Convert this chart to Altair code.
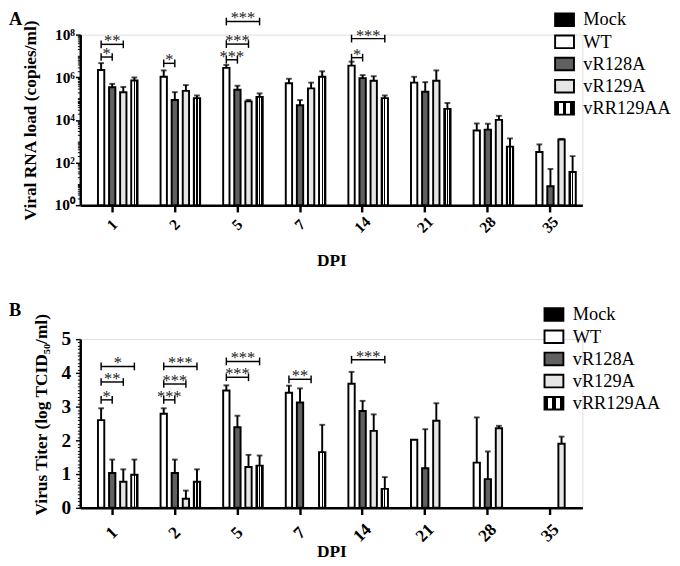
import altair as alt
import pandas as pd

series = ["Mock", "WT", "vR128A", "vR129A", "vRR129AA"]
dpi_labels = ["1", "2", "5", "7", "14", "21", "28", "35"]

# ---- Panel A: viral RNA load (copies/ml): mean and top of error bar ----
rna_wt = [2.2e6, 1.05e6, 2.75e6, 5.2e5, 3.5e6, 5.6e5, 3.2e3, 3.1e2]
rna_wt_hi = [4.6e6, 2.1e6, 3.8e6, 8.5e5, 5.4e6, 1.05e6, 6.8e3, 7.1e2]
rna_r128 = [3.4e5, 8.5e4, 2.6e5, 4.9e4, 9.1e5, 2.1e5, 3.5e3, 7.8]
rna_r128_hi = [4.9e5, 2.0e5, 4.0e5, 8.5e4, 1.26e6, 5.9e5, 6.6e3, 50]
rna_r129 = [2.0e5, 2.3e5, 7.4e4, 3.0e5, 6.8e5, 6.8e5, 1.0e4, 1.2e3]
rna_r129_hi = [3.5e5, 4.3e5, 8.7e4, 5.6e5, 1.12e6, 2.1e6, 1.55e4, 1.29e3]
rna_rr = [7.0e5, 1.05e5, 1.2e5, 1.05e6, 1.05e5, 3.3e4, 5.6e2, 36]
rna_rr_hi = [9.8e5, 1.4e5, 1.75e5, 1.9e6, 1.4e5, 6.2e4, 1.35e3, 2.0e2]

# significance brackets: (DPI, compared virus vs WT, bracket level, label)
rna_brackets = [
    ("1", "vR128A", 8.9e6, "*"), ("1", "vR129A", 3.5e7, "**"),
    ("2", "vR128A", 4.5e6, "*"),
    ("5", "vR128A", 6.6e6, "***"), ("5", "vR129A", 3.6e7, "***"), ("5", "vRR129AA", 4.1e8, "***"),
    ("14", "vR128A", 8.3e6, "*"), ("14", "vRR129AA", 6.5e7, "***"),
]

# ---- Panel B: virus titer (log TCID50/ml) ----
tit_wt = [2.60, 2.79, 3.48, 3.41, 3.68, 2.02, 1.34, None]
tit_wt_hi = [2.95, 2.95, 3.63, 3.62, 4.03, 2.02, 2.68, None]
tit_r128 = [1.03, 1.03, 2.39, 3.12, 2.87, 1.17, 0.85, None]
tit_r128_hi = [1.43, 1.43, 2.73, 3.54, 3.17, 2.33, 1.67, None]
tit_r129 = [0.77, 0.27, 1.21, None, 2.28, 2.58, 2.36, 1.90]
tit_r129_hi = [1.14, 0.51, 1.57, None, 2.77, 3.10, 2.43, 2.11]
tit_rr = [0.98, 0.77, 1.25, 1.65, 0.56, None, None, None]
tit_rr_hi = [1.43, 1.14, 1.55, 2.46, 0.91, None, None, None]

tit_brackets = [
    ("1", "vR128A", 3.20, "*"), ("1", "vR129A", 3.73, "**"), ("1", "vRR129AA", 4.19, "*"),
    ("2", "vR128A", 3.20, "***"), ("2", "vR129A", 3.67, "***"), ("2", "vRR129AA", 4.19, "***"),
    ("5", "vR129A", 3.87, "***"), ("5", "vRR129AA", 4.34, "***"),
    ("7", "vR129A", 3.81, "**"),
    ("14", "vRR129AA", 4.39, "***"),
]

log_major = [1, 100, 10000, 1000000, 100000000]
log_major_labels = ["10\u2070", "10\u00b2", "10\u2074", "10\u2076", "10\u2078"]
lin_major = [0, 1, 2, 3, 4, 5]

# ---------------- layout / style ----------------
FONT = "Liberation Serif"
W = 521
X_PI, X_PO = 0.12, 0.07
O_PI, O_PO = 0.43, 0.2
step = W / (len(dpi_labels) - X_PI + 2 * X_PO)
step2 = step * (1 - X_PI) / (len(series) - O_PI + 2 * O_PO)

stops = []
n_stripes = 5
for i in range(n_stripes):
    c = "black" if i % 2 == 0 else "white"
    stops.append(f"{{offset: {i / n_stripes:.3f}, color: '{c}'}}")
    stops.append(f"{{offset: {(i + 1) / n_stripes:.3f}, color: '{c}'}}")
checker = "{gradient: 'linear', x1: 0, y1: 0, x2: 1, y2: 0, stops: [" + ", ".join(stops) + "]}"
fill_range = ["black", "white", "#606060", "#e6e6e6", alt.ExprRef(expr=checker)]


def make_table(means, highs):
    rows = []
    for s, ml, hl in zip(series[1:], means, highs):
        for d, m, h in zip(dpi_labels, ml, hl):
            if m is None:
                continue
            rows.append({"DPI": d, "Virus": s, "mean": m, "upper": h})
    return pd.DataFrame(rows)


def bracket_tables(brackets):
    lines, texts = [], []
    for i, (d, tgt, lvl, lab) in enumerate(brackets):
        for s in ["WT", tgt]:
            lines.append({"DPI": d, "Virus": s, "level": lvl, "id": i})
        texts.append({"DPI": d, "Virus": tgt, "level": lvl, "label": lab,
                      "span": series.index(tgt) - series.index("WT")})
    return pd.DataFrame(lines), pd.DataFrame(texts)


def panel(df, brackets, y_scale, y_axis, minor_axis, base_value, height, x_title_pad,
          x_label_size, x_label_pad, legend_xy, tag, tag_y):
    lines, texts = bracket_tables(brackets)
    x_axis = alt.Axis(title="DPI", labelAngle=-45, labelAlign="center", labelBaseline="middle",
                      labelPadding=x_label_pad, labelFont=FONT, labelFontSize=x_label_size,
                      labelFontWeight="bold", titleFont=FONT, titleFontSize=18,
                      titleFontWeight="bold", titlePadding=x_title_pad, domainColor="black",
                      domainWidth=2.5, tickColor="black", tickWidth=2.5, tickSize=7, grid=False)
    x = alt.X("DPI:N", sort=dpi_labels, axis=x_axis,
              scale=alt.Scale(domain=dpi_labels, paddingInner=X_PI, paddingOuter=X_PO))
    xo = alt.XOffset("Virus:N", scale=alt.Scale(domain=series, paddingInner=O_PI, paddingOuter=O_PO))
    legend = alt.Legend(orient="none", legendX=legend_xy[0], legendY=legend_xy[1], title=None,
                        symbolType="M-1.5,-1H1.5V1H-1.5Z", symbolSize=170,
                        symbolStrokeColor="black", symbolStrokeWidth=2,
                        labelFont=FONT, labelFontSize=19, labelOffset=10,
                        rowPadding=0, padding=0)
    bars = alt.Chart(df).mark_bar(stroke="black", strokeWidth=2).encode(
        x=x, xOffset=xo,
        y=alt.Y("mean:Q", scale=y_scale, axis=y_axis),
        y2=alt.datum(base_value),
        fill=alt.Fill("Virus:N", scale=alt.Scale(domain=series, range=fill_range), legend=legend),
    )
    minor = alt.Chart(df).mark_point(opacity=0).encode(
        y=alt.Y("mean:Q", axis=minor_axis))
    err = df[df["upper"] > df["mean"]]
    rules = alt.Chart(err).mark_rule(color="black", strokeWidth=2).encode(
        x=x, xOffset=xo, y=alt.Y("mean:Q", axis=None), y2="upper:Q")
    caps = alt.Chart(err).mark_tick(color="black", thickness=2, size=6).encode(
        x=x, xOffset=xo, y=alt.Y("upper:Q", axis=None))
    blines = alt.Chart(lines).mark_line(color="black", strokeWidth=1.5).encode(
        x=x, xOffset=xo, y=alt.Y("level:Q", axis=None), detail="id:N")
    bends = alt.Chart(lines).mark_point(shape="M0,-1L0,1", size=64, stroke="black",
                                        strokeWidth=1.5, filled=False, opacity=1).encode(
        x=x, xOffset=xo, y=alt.Y("level:Q", axis=None))
    layers = [bars, minor, rules, caps, blines, bends]
    for sp in sorted(texts["span"].unique()):
        layers.append(
            alt.Chart(texts[texts["span"] == sp]).mark_text(
                font=FONT, fontSize=17, color="#222222", baseline="middle",
                dy=-3, dx=-float(sp) * step2 / 2).encode(
                x=x, xOffset=xo, y=alt.Y("level:Q", axis=None), text="label:N"))
    layers.append(
        alt.Chart(pd.DataFrame({"t": [tag]})).mark_text(
            font=FONT, fontSize=19, fontWeight="bold", align="left", baseline="top",
            color="black").encode(x=alt.value(-74), y=alt.value(tag_y), text="t:N"))
    return alt.layer(*layers).resolve_axis(y="independent").properties(width=W, height=height)


common_y = dict(labelFont=FONT, labelFontWeight="bold", titleFont=FONT, titleFontWeight="bold",
                domainColor="black", domainWidth=2.5, tickColor="black", tickWidth=1.5,
                tickSize=5, grid=False, labelOverlap=False, orient="left")
minor_common = dict(orient="left", labels=False, title=None, domain=False, grid=False,
                    tickColor="black", tickWidth=1, tickSize=3)

# panel A
rna_df = make_table([rna_wt, rna_r128, rna_r129, rna_rr],
                    [rna_wt_hi, rna_r128_hi, rna_r129_hi, rna_rr_hi])
log_minor = [k * 10 ** e for e in range(8) for k in range(2, 10)] + [10 ** e for e in (1, 3, 5, 7)]
lab_expr = " : ".join(f"datum.value == {v} ? '{l}'" for v, l in zip(log_major, log_major_labels)) + " : ''"
ya = alt.Axis(title="Viral RNA load (copies/ml)", values=log_major, labelExpr=lab_expr,
              labelFontSize=16, labelPadding=1, titleFontSize=18, titlePadding=14, **common_y)
panelA = panel(rna_df, rna_brackets, alt.Scale(type="log", domain=[1, 1e8], nice=False), ya,
               alt.Axis(values=log_minor, **minor_common), 1,
               177, 17, 16, 13, (493, -25), "A", -25)

# panel B
tit_df = make_table([tit_wt, tit_r128, tit_r129, tit_rr],
                    [tit_wt_hi, tit_r128_hi, tit_r129_hi, tit_rr_hi])
lin_minor = [round(i * 0.1, 1) for i in range(51) if i % 10 != 0]
yb = alt.Axis(title="Virus Titer (log TCID\u2085\u2080/ml)", values=lin_major, format="d",
              labelFontSize=20, labelPadding=5, titleFontSize=18, titlePadding=11, titleY=78,
              **common_y)
panelB = panel(tit_df, tit_brackets, alt.Scale(domain=[0, 5], nice=False), yb,
               alt.Axis(values=lin_minor, **minor_common), 0,
               175, -2, 18, 19, (482, -35), "B", -39)

chart = alt.vconcat(panelA, panelB, spacing=32).resolve_scale(
    x="independent", y="independent", xOffset="independent", fill="independent"
).properties(padding={"top": -10, "left": 0, "right": 0, "bottom": 0}).configure_view(
    stroke=None).configure(background="white").configure_legend(labelFont=FONT)

chart.save("out.html", embed_options={"renderer": "svg", "actions": False})
